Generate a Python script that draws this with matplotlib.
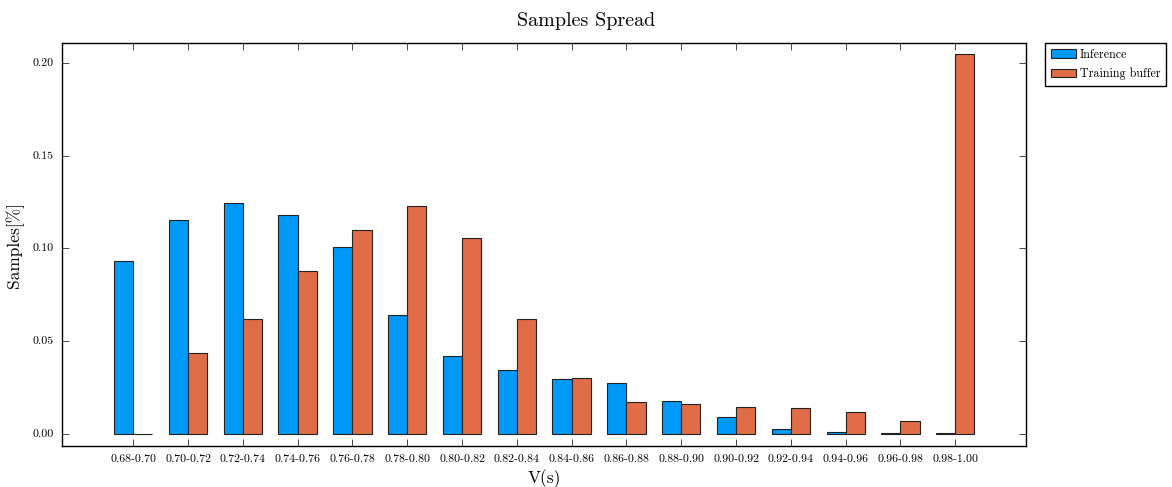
import matplotlib
matplotlib.use('Agg')
import matplotlib.pyplot as plt
import numpy as np

plt.style.use('classic')
plt.rcParams['font.family'] = 'serif'
plt.rcParams['font.serif'] = ['cmr10']
plt.rcParams['axes.formatter.use_mathtext'] = True

bins = ['0.68-0.70', '0.70-0.72', '0.72-0.74', '0.74-0.76', '0.76-0.78', '0.78-0.80',
        '0.80-0.82', '0.82-0.84', '0.84-0.86', '0.86-0.88', '0.88-0.90', '0.90-0.92',
        '0.92-0.94', '0.94-0.96', '0.96-0.98', '0.98-1.00']
inference = [0.093, 0.1155, 0.1245, 0.118, 0.1008, 0.0642, 0.042, 0.0345,
             0.0296, 0.0275, 0.0175, 0.0092, 0.0027, 0.001, 0.0005, 0.0004]
training = [0.0, 0.0437, 0.062, 0.0878, 0.11, 0.123, 0.1057, 0.062,
            0.0302, 0.0173, 0.0163, 0.0147, 0.014, 0.0119, 0.007, 0.2049]

x = np.arange(len(bins))
width = 0.35

fig = plt.figure(figsize=(11.72, 4.87), dpi=100, facecolor='white')
ax = fig.add_axes([62 / 1172, 41 / 487, 964 / 1172, 403 / 487])
ax.bar(x - width / 2, inference, width, align='center', color='#0099f7',
       edgecolor='#222222', linewidth=0.8, label='Inference')
ax.bar(x + width / 2, training, width, align='center', color='#e06d47',
       edgecolor='#222222', linewidth=0.8, label='Training buffer')

ax.set_xticks(x)
ax.set_xticklabels(bins, fontsize=8.5)
ax.set_xlim(-1.3, 16.29)
ax.set_ylim(-0.0065, 0.2108)
ax.set_yticks([0.0, 0.05, 0.10, 0.15, 0.20])
ax.set_yticklabels(['0.00', '0.05', '0.10', '0.15', '0.20'], fontsize=8.5)
ax.tick_params(direction='in', length=5, top=True, right=True, pad=6)
ax.set_xlabel('V(s)', fontsize=12.5, labelpad=4)
ax.set_ylabel('Samples[%]', fontsize=12.5, labelpad=6)
fig.suptitle('Samples Spread', fontsize=14.5, y=0.975)

leg = ax.legend(loc='upper left', bbox_to_anchor=(1.02, 1.0), fontsize=8.7,
                fancybox=False, borderaxespad=0.0, handlelength=2.1,
                handletextpad=0.3, borderpad=0.45, labelspacing=0.6)
leg.get_frame().set_linewidth(1.0)

fig.savefig('out.png', dpi=100, facecolor='white')
